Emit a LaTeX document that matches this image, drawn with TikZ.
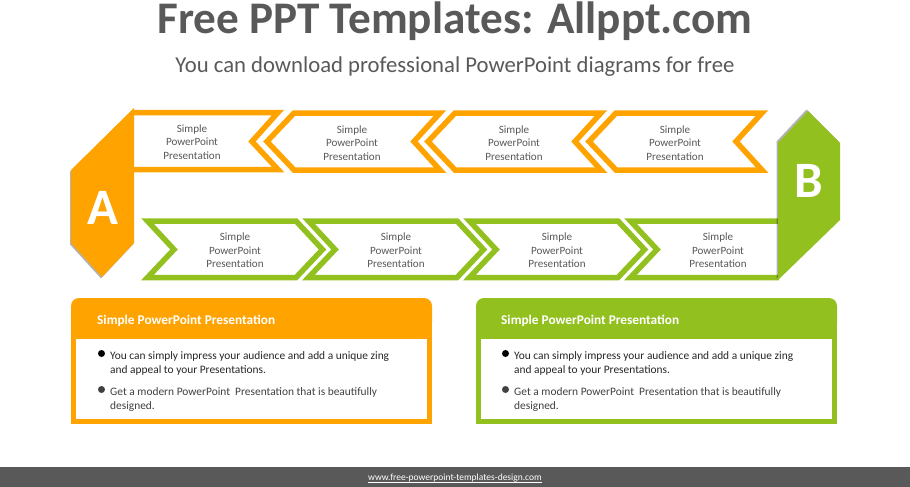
\documentclass[tikz,border=0pt]{standalone}
\usepackage{fontspec}
\setmainfont{Carlito}
\definecolor{ordark}{RGB}{255,163,0}
\definecolor{grnleaf}{RGB}{146,193,31}
\definecolor{slategray}{RGB}{89,89,89}
\definecolor{bodygray}{RGB}{64,64,64}
\usetikzlibrary{positioning,shadows}
\tikzset{
  chev/.style = {line width=5.5pt, miter limit=10, fill=white},
  chevtext/.style = {align=center, text=slategray, font=\fontsize{11.1}{13.6}\selectfont, inner sep=0pt},
  hexadown/.style = {drop shadow={shadow xshift=-1pt, shadow yshift=-1.5pt, opacity=.3, fill=black}},
  hexaup/.style = {drop shadow={shadow xshift=-1.5pt, shadow yshift=1.5pt, opacity=.3, fill=black}},
  letter/.style = {text=white, font=\bfseries\fontsize{51}{51}\selectfont, inner sep=0pt},
  cardtitle/.style = {anchor=west, text=white, inner sep=0pt, font=\bfseries\fontsize{13.3}{15}\selectfont},
  cardtext/.style = {anchor=west, align=left, text=bodygray, inner sep=0pt, font=\fontsize{11.4}{14}\selectfont},
  dot/.style = {circle, inner sep=0pt, minimum size=7pt}
}
% one left pointing and one right pointing chevron, #1 name, #2 shift, #3 text centre
\newcommand{\leftchev}[3]{
  \draw[chev,draw=ordark] (#2+267,141.5)--(#2+294,113)--(#2+440,113)--(#2+414,141.5)--(#2+440,170)--(#2+294,170)--cycle;
  \node[chevtext] (#1) at (#3,143) {Simple\\PowerPoint\\Presentation};
}
\newcommand{\rightchev}[3]{
  \draw[chev,draw=grnleaf] (#2+147.5,221)--(#2+296,221)--(#2+322.5,249.5)--(#2+296,277.5)--(#2+147.5,277.5)--(#2+174,249.5)--cycle;
  \node[chevtext] (#1) at (#3,250.5) {Simple\\PowerPoint\\Presentation};
}
% coloured card, #1 name, #2 left edge, #3 colour, #4 text edge
\newcommand{\infocard}[4]{
  \fill[#3,rounded corners=8pt] (#2,298) -- (#2+361,298) -- (#2+361,330) -- (#2,330) -- cycle;
  \fill[#3] (#2,315) rectangle (#2+361,424);
  \fill[white] (#2+5,339) rectangle (#2+356,419);
  \node[cardtitle] (#1head) at (#4,320.5) {Simple PowerPoint Presentation};
  \node[dot,fill=black] (#1dota) at (#4+4.5,353.5) {};
  \node[cardtext,text=black!85] (#1a) at (#4+13,363.5) {You can simply impress your audience and add a unique zing\\and appeal to your Presentations.};
  \node[dot,fill=bodygray] (#1dotb) at (#4+4.5,389.5) {};
  \node[cardtext] (#1b) at (#4+13,399.5) {Get a modern PowerPoint\ \ Presentation that is beautifully\\designed.};
}

\begin{document}
\begin{tikzpicture}[x=1pt,y=-1pt]
    \useasboundingbox (0,0) rectangle (910,487);
    \node[anchor=base,text=slategray,inner sep=0pt,font=\bfseries\fontsize{45.2}{46}\selectfont] (title) at (455,34) {Free PPT Templates: Allppt.com};
    \node[anchor=base,text=slategray,inner sep=0pt,font=\fontsize{22.7}{26}\selectfont] (subtitle) at (455,73) {You can download professional PowerPoint diagrams for free};
    % top row
    \draw[chev,draw=ordark] (133,112.5)--(278,112.5)--(252,141.5)--(278,169.5)--(133,169.5);
    \node[chevtext] (topa) at (192,142) {Simple\\PowerPoint\\Presentation};
    \leftchev{topb}{0}{352}
    \leftchev{topc}{161}{514}
    \leftchev{topd}{322}{675}
    % bottom row
    \rightchev{lowa}{0}{235}
    \rightchev{lowb}{161}{396}
    \rightchev{lowc}{322}{557}
    \draw[chev,draw=grnleaf] (779,221)--(630.5,221)--(657,249.5)--(630.5,277.5)--(779,277.5);
    \node[chevtext] (lowd) at (718,250.5) {Simple\\PowerPoint\\Presentation};
    % end caps
    \fill[ordark,hexadown] (134,108)--(71,170)--(71,243)--(102,277)--(134,243)--cycle;
    \node[letter] (capa) at (103,208) {A};
    \fill[grnleaf,hexaup] (808,111)--(840,143)--(840,220)--(778,280)--(778,143)--cycle;
    \node[letter] (capb) at (809,181) {B};
    % cards
    \infocard{left}{71}{ordark}{97}
    \infocard{right}{476}{grnleaf}{501}
    % footer
    \node[fill=slategray,minimum width=910pt,minimum height=20pt,inner sep=0pt,anchor=north west] (footer) at (0,467) {};
    \node[anchor=base,text=white,inner sep=0pt,font=\fontsize{9.5}{12}\selectfont] (weblink) at (455,480.5) {\underline{\smash{www.free-powerpoint-templates-design.com}}};
  \end{tikzpicture}
\end{document}
